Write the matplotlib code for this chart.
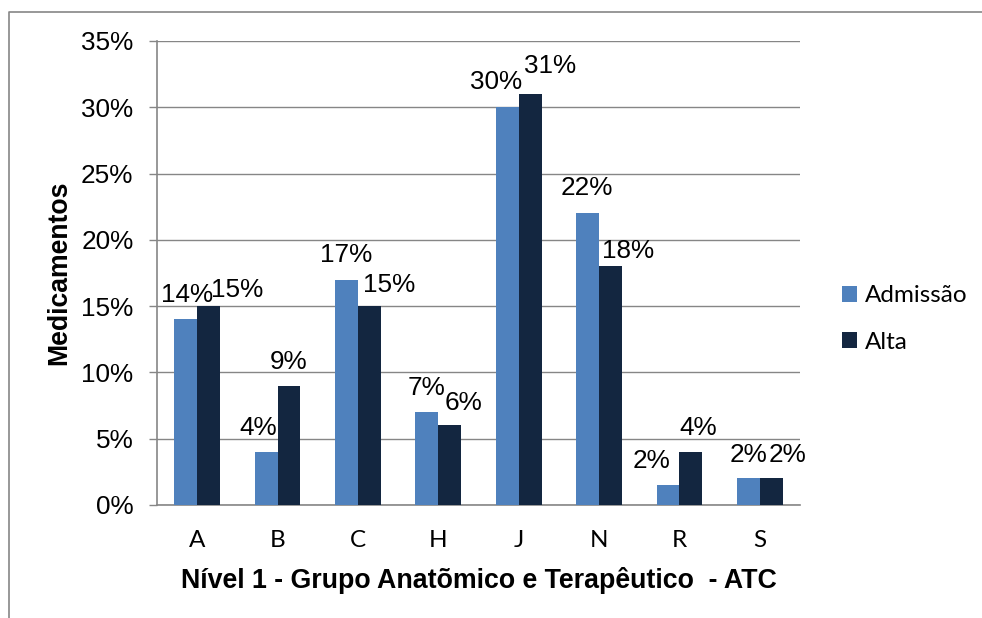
import matplotlib
matplotlib.use("Agg")
import matplotlib.pyplot as plt
from matplotlib.lines import Line2D
from matplotlib.ticker import FuncFormatter
import numpy as np

# ---- data ----
categories = ["A", "B", "C", "H", "J", "N", "R", "S"]
admissao = [14, 4, 17, 7, 30, 22, 1.5, 2]
alta = [15, 9, 15, 6, 31, 18, 4, 2]
series_names = ["Admissão", "Alta"]
y_ticks = [0, 5, 10, 15, 20, 25, 30, 35]

# label nudges (pixels): (dx, dy above bar top)
adm_nudge = [(1, 17), (-8, 17), (0, 18), (0, 17), (-11, 18), (-1, 18), (-16, 17), (0, 16)]
alta_nudge = [(28, 9), (0, 17), (20, 14), (14, 15), (20, 21), (18, 8), (7, 17), (16, 16)]

C_ADM = "#4F81BD"
C_ALTA = "#132640"
GRID = "#868686"
ARIAL = ["Liberation Sans", "DejaVu Sans"]
CALIBRI = ["Lato", "DejaVu Sans"]

W, H = 982, 618
fig = plt.figure(figsize=(W / 100, H / 100), dpi=100)
ax = fig.add_axes([157 / W, 1 - 505 / H, (800 - 157) / W, (505 - 41) / H])

x = np.arange(len(categories))
bw = 0.285
b1 = ax.bar(x - bw / 2, admissao, bw, color=C_ADM, label=series_names[0], zorder=3)
b2 = ax.bar(x + bw / 2, alta, bw, color=C_ALTA, label=series_names[1], zorder=3)

ax.set_xlim(-0.5, len(categories) - 0.5)
ax.set_ylim(0, 35)
ax.set_yticks(y_ticks)
ax.yaxis.set_major_formatter(FuncFormatter(lambda v, p: f"{v:.0f}%"))
ax.set_xticks(x)
ax.set_xticklabels(categories, fontfamily=CALIBRI, fontsize=17.5)
for lab in ax.get_yticklabels():
    lab.set_fontfamily(ARIAL)
    lab.set_fontsize(18.8)

ax.grid(axis="y", color=GRID, linewidth=1.0, zorder=0)
for s in ["top", "right"]:
    ax.spines[s].set_visible(False)
for s in ["left", "bottom"]:
    ax.spines[s].set_color(GRID)
    ax.spines[s].set_linewidth(1.2)
ax.tick_params(axis="y", length=6, width=1.0, color=GRID, pad=11)
ax.tick_params(axis="x", length=0, pad=18)

def label_bars(bars, vals, nudges):
    for rect, v, (dx, dy) in zip(bars, vals, nudges):
        ax.annotate(f"{v:.0f}%", (rect.get_x() + rect.get_width() / 2, rect.get_height()),
                    xytext=(dx, dy), textcoords="offset pixels",
                    ha="center", va="baseline", fontsize=18.8, fontfamily=ARIAL, zorder=5)

label_bars(b1, admissao, adm_nudge)
label_bars(b2, alta, alta_nudge)

fig.text(478.5 / W, 1 - 580 / H, "Nível 1 - Grupo Anatõmico e Terapêutico  - ATC",
         ha="center", va="center", fontsize=19.3, fontweight="bold", fontfamily=ARIAL)
fig.text(59 / W, 1 - 273 / H, "Medicamentos", rotation=90, ha="center", va="center",
         fontsize=19.2, fontweight="bold", fontfamily=ARIAL)

fig.legend(handles=[b1, b2], labels=series_names, loc="center left",
           bbox_to_anchor=(842 / W, 1 - 319 / H), frameon=False, borderpad=0,
           borderaxespad=0, handlelength=0.62, handleheight=0.62, handletextpad=0.33,
           labelspacing=1.05, prop={"family": CALIBRI, "size": 17.5})

# figure border (top and left)
fig.add_artist(Line2D([9 / W, 9 / W, 1.0], [0.0, 1 - 11.5 / H, 1 - 11.5 / H],
                      transform=fig.transFigure, color=GRID, linewidth=1.2))

fig.savefig("out.png", dpi=100)
